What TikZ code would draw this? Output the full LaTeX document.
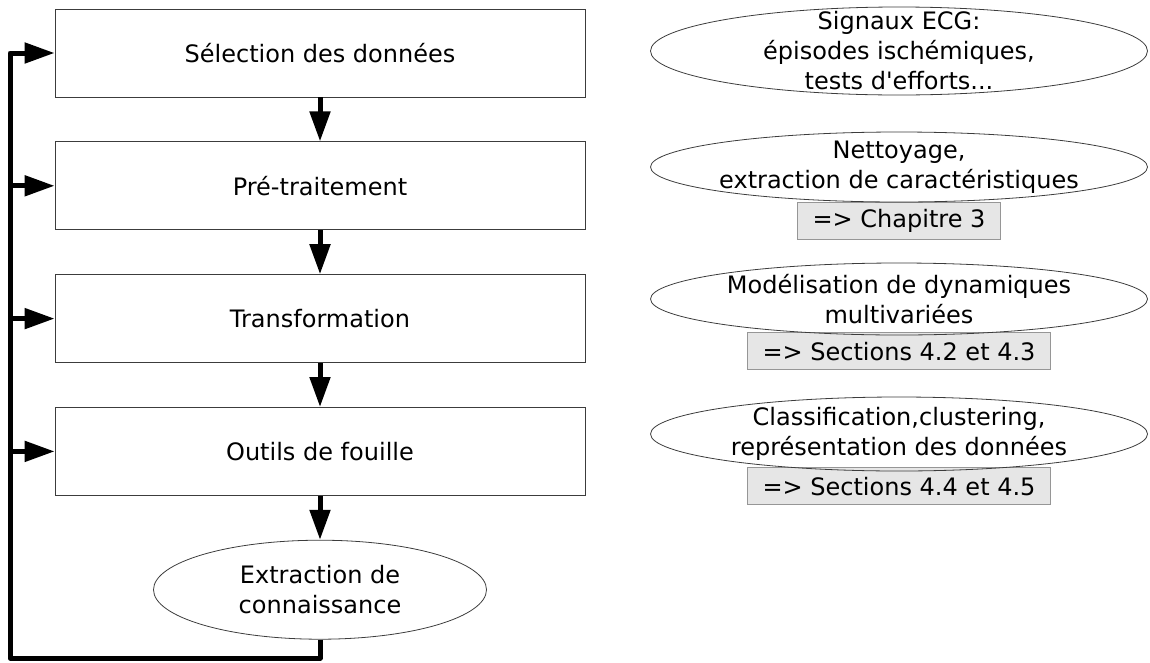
\documentclass[tikz,border=0pt]{standalone}
\usepackage{fontspec}
\setmainfont{DejaVu Sans}[Ligatures=TeXOff]
\usepackage{tikz}
\usetikzlibrary{shapes.geometric, arrows.meta, positioning, backgrounds}
\definecolor{boxline}{RGB}{60, 60, 60}
\definecolor{refgray}{RGB}{230, 230, 230}
\definecolor{refline}{RGB}{150, 150, 150}

\begin{document}
\begin{tikzpicture}[
    x=1pt, y=-1pt,
    node distance=44pt,
    every node/.style={font=\fontsize{24}{30}\selectfont},
    stage/.style={rectangle, draw=boxline, line width=0.8pt, minimum width=530pt, minimum height=88pt, inner sep=0pt},
    oval/.style={ellipse, draw=boxline, line width=0.8pt, inner sep=0pt, align=center},
    txt/.style={align=center, inner sep=0pt},
    ref/.style={rectangle, draw=refline, fill=refgray, line width=0.8pt, minimum height=37pt, inner xsep=15pt, inner ysep=0pt},
    flow/.style={-{Triangle[length=30pt, width=20pt]}, line width=5pt, line join=round}
]
    \useasboundingbox (0,0) rectangle (1150,662);

    % processus
    \node[stage] (sel) at (320,53) {Sélection des données};
    \node[stage, below=of sel] (pre) {Pré-traitement};
    \node[stage, below=of pre] (trans) {Transformation};
    \node[stage, below=of trans] (fouille) {Outils de fouille};
    \node[oval, minimum width=333pt, minimum height=99pt, below=of fouille] (kdd) {Extraction de\\connaissance};

    \draw[flow] (sel) -- (pre);
    \draw[flow] (pre) -- (trans);
    \draw[flow] (trans) -- (fouille);
    \draw[flow] (fouille) -- (kdd);

    % retour
    \coordinate (loop) at (10,658);
    \draw[flow] (kdd.south) |- (loop) |- (sel.west);
    \foreach \n in {pre, trans, fouille}
        \draw[flow] (loop |- \n.west) -- (\n.west);

    % correspondances
    \node[oval, minimum width=497pt, minimum height=88pt] (ecg) at (899,51) {};
    \node[txt] (ecgtxt) at (ecg) {Signaux ECG:\\épisodes ischémiques,\\tests d'efforts...};
    \node[oval, minimum width=497pt, minimum height=70pt] (nett) at (899,167) {};
    \node[txt] (netttxt) at (nett) {Nettoyage,\\extraction de caractéristiques};
    \node[oval, minimum width=497pt, minimum height=72pt] (dyn) at (899,299) {};
    \node[txt] (dyntxt) at (dyn) {Modélisation de dynamiques\\multivariées};
    \node[oval, minimum width=497pt, minimum height=74pt] (clas) at (899,434) {};
    \node[txt] (clastxt) at (clas) {Classification,clustering,\\représentation des données};

    \begin{scope}[on background layer]
        \node[ref, below=0pt of nett] (chap) {=> Chapitre 3};
        \node[ref, below=-3pt of dyn] (sec23) {=> Sections 4.2 et 4.3};
        \node[ref, below=-4pt of clas] (sec45) {=> Sections 4.4 et 4.5};
    \end{scope}
\end{tikzpicture}
\end{document}
